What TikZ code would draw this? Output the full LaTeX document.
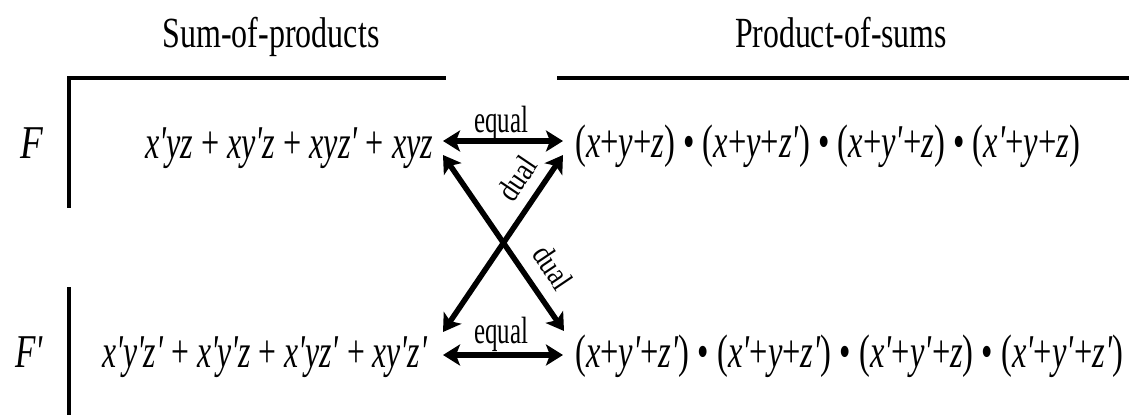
\documentclass[tikz,border=0pt]{standalone}
\usepackage{fontspec}
\setmainfont{Liberation Serif}
\usetikzlibrary{arrows.meta}
\newsavebox\fitbox
\newlength\fitlen
\newcommand\fitw[2]{\sbox\fitbox{#2}\setlength\fitlen{\wd\fitbox}\pgfmathsetmacro\fitr{#1/\fitlen}\scalebox{\fitr}[1]{\usebox\fitbox}}
\newcommand\pr{\textquotesingle}
\tikzset{
  txt/.style={inner sep=0pt, anchor=base west, font=\fontsize{47}{50}\selectfont},
  head/.style={inner sep=0pt, anchor=base, font=\fontsize{43}{46}\selectfont},
  small/.style={inner sep=0pt, font=\fontsize{38}{40}\selectfont},
  tiny/.style={inner sep=0pt, font=\fontsize{32}{34}\selectfont},
  rule/.style={line width=4.5pt},
  arr/.style={line width=5.5pt, {Stealth[length=17pt,width=21pt,inset=4pt]}-{Stealth[length=17pt,width=21pt,inset=4pt]}}
}
\begin{document}
\begin{tikzpicture}[x=1pt,y=-1pt]
\useasboundingbox (0,0) rectangle (1129,416);
% headings
\node[head] (h1) at (271,47) {\fitw{217}{Sum-of-products}};
\node[head] (h2) at (841,47) {\fitw{212}{Product-of-sums}};
% rules
\coordinate (r1) at (67,78);
\coordinate (r2) at (446,78);
\coordinate (r3) at (557,78);
\coordinate (r4) at (1129,78);
\coordinate (v1) at (69,76);
\coordinate (v2) at (69,208);
\coordinate (v3) at (69,287);
\coordinate (v4) at (69,415);
\draw[rule] (r1) -- (r2);
\draw[rule] (r3) -- (r4);
\draw[rule] (v1) -- (v2);
\draw[rule] (v3) -- (v4);
% row labels
\node[txt] (F) at (20,158) {\fitw{23}{\textit{F}}};
\node[txt] (Fp) at (15,367) {\fitw{28}{\textit{F\pr}}};
% expressions
\node[txt] (tl) at (145,158) {\fitw{288}{\textit{x\pr yz} + \textit{xy\pr z} + \textit{xyz\pr} + \textit{xyz}}};
\node[txt] (tr) at (575,157) {\fitw{505}{(\textit{x}+\textit{y}+\textit{z}) \textbullet{} (\textit{x}+\textit{y}+\textit{z\pr}) \textbullet{} (\textit{x}+\textit{y\pr}+\textit{z}) \textbullet{} (\textit{x\pr}+\textit{y}+\textit{z})}};
\node[txt] (bl) at (102,367) {\fitw{325}{\textit{x\pr y\pr z\pr} + \textit{x\pr y\pr z} + \textit{x\pr yz\pr} + \textit{xy\pr z\pr}}};
\node[txt] (br) at (575,367) {\fitw{548}{(\textit{x}+\textit{y\pr}+\textit{z\pr}) \textbullet{} (\textit{x\pr}+\textit{y}+\textit{z\pr}) \textbullet{} (\textit{x\pr}+\textit{y\pr}+\textit{z}) \textbullet{} (\textit{x\pr}+\textit{y\pr}+\textit{z\pr})}};
% arrow ends
\coordinate (a1) at (443,141);
\coordinate (a2) at (563,141);
\coordinate (a3) at (443,355);
\coordinate (a4) at (563,355);
\coordinate (d1) at (443,155);
\coordinate (d2) at (564,331);
\coordinate (d3) at (563,155);
\coordinate (d4) at (443,332);
\draw[arr] (a1) -- (a2);
\draw[arr] (a3) -- (a4);
\draw[arr] (d1) -- (d2);
\draw[arr] (d4) -- (d3);
% labels
\node[small, anchor=base] (e1) at (501,132) {\fitw{54}{equal}};
\node[small, anchor=base] (e2) at (501,343) {\fitw{54}{equal}};
\node[tiny, rotate=56] (u1) at (517,178) {\fitw{46}{dual}};
\node[tiny, rotate=-56] (u2) at (553,267) {\fitw{46}{dual}};
\end{tikzpicture}
\end{document}
